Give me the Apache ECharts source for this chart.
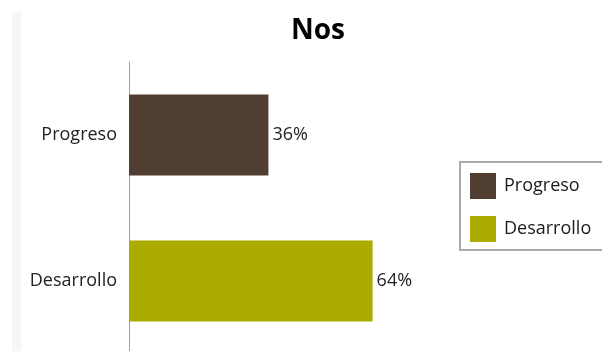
<!DOCTYPE html>
<html>
<head>
<meta charset="utf-8">
<script src="https://cdn.jsdelivr.net/npm/echarts@6/dist/echarts.min.js"></script>
<style>
html,body{margin:0;padding:0;background:#fff;}
#chart{width:602px;height:351px;}
</style>
</head>
<body>
<div id="chart"></div>
<script>
const titleText = 'Nos';
const categories = ['Progreso', 'Desarrollo'];
const seriesNames = ['Progreso', 'Desarrollo'];
const progresoValues = [36.4, null];
const desarrolloValues = [null, 63.6];
const colors = ['#4f3e31', '#abab00'];

const chart = echarts.init(document.getElementById('chart'), null, {renderer: 'canvas'});
const font = '"Open Sans", "Noto Sans", sans-serif';
const labelCfg = {
  show: true,
  position: 'right',
  distance: 4,
  fontFamily: font,
  fontSize: 18,
  color: '#222',
  formatter: p => Math.round(p.value) + '%'
};
chart.setOption({
  animation: false,
  backgroundColor: '#fff',
  color: colors,
  graphic: [{
    type: 'rect',
    shape: {x: 12, y: 12, width: 9, height: 345},
    style: {fill: '#f6f6f6'},
    silent: true,
    z: -1
  }],
  title: {
    text: titleText,
    left: 291,
    top: 17,
    padding: 0,
    textStyle: {fontFamily: font, fontSize: 28, fontWeight: 'bold', color: '#000'}
  },
  legend: {
    orient: 'vertical',
    left: 460,
    top: 162,
    padding: [11, 30, 8, 10],
    itemWidth: 26,
    itemHeight: 26,
    itemGap: 17,
    borderColor: '#aaa',
    borderWidth: 2,
    icon: 'rect',
    textStyle: {fontFamily: font, fontSize: 18, color: '#1a1a1a', padding: [0, 0, 0, 3]},
    data: seriesNames
  },
  grid: {left: 129, width: 383, top: 62, height: 292, outerBoundsMode: 'none', containLabel: false},
  xAxis: {
    type: 'value',
    min: 0,
    max: 100,
    show: false
  },
  yAxis: {
    type: 'category',
    inverse: true,
    data: categories,
    axisLine: {show: true, lineStyle: {color: '#a0a0a0', width: 1}},
    axisTick: {show: false},
    axisLabel: {fontFamily: font, fontSize: 18, color: '#222', margin: 12}
  },
  series: [
    {name: seriesNames[0], type: 'bar', stack: 'a', barWidth: 81, data: progresoValues, label: labelCfg,
     itemStyle: {color: colors[0]}},
    {name: seriesNames[1], type: 'bar', stack: 'a', barWidth: 81, data: desarrolloValues, label: labelCfg,
     itemStyle: {color: colors[1]}}
  ]
});
</script>
</body>
</html>
